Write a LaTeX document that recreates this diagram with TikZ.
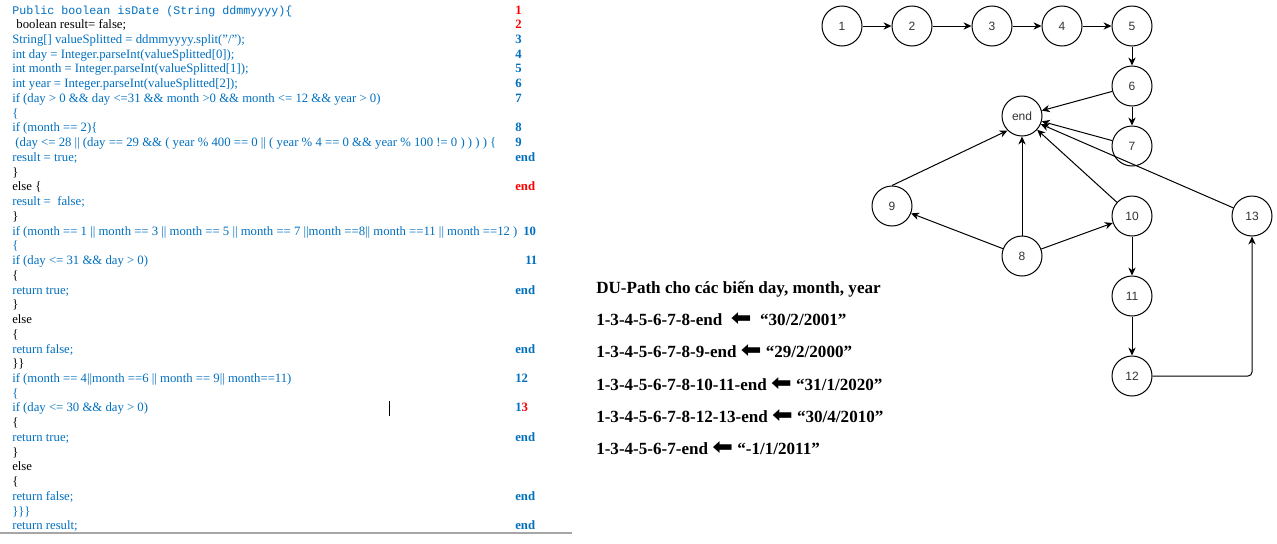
\documentclass[tikz,border=0pt]{standalone}
\usepackage{fontspec}
\setmainfont{Liberation Serif}
\newfontfamily\codemono{Liberation Mono}
\newfontfamily\graphfont{Liberation Sans}
\newfontfamily\symfont{DejaVu Sans}
\usetikzlibrary{arrows.meta}
\definecolor{codeblue}{HTML}{0070C0}
\definecolor{codered}{HTML}{FF0000}
\definecolor{nodetext}{HTML}{333333}
\definecolor{rulegray}{HTML}{A6A6A6}
\newcommand{\leftarr}{{\symfont\raisebox{-0.6pt}{\scalebox{1.45}[1.3]{⬅}}}}
\tikzset{
  codeline/.style={anchor=base west, inner sep=0pt, font=\fontsize{9.55pt}{11pt}\selectfont},
  blueline/.style={codeline, text=codeblue},
  blackline/.style={codeline, text=black},
  numlabel/.style={anchor=base west, inner sep=0pt, font=\fontsize{9.55pt}{11pt}\selectfont\bfseries, text=codeblue},
  dutext/.style={anchor=base west, inner sep=0pt, font=\fontsize{12.8pt}{14pt}\selectfont\bfseries, text=black},
  cfg/.style={circle, draw=black, line width=0.75pt, minimum size=30pt, inner sep=0pt, font=\graphfont\fontsize{9pt}{10pt}\selectfont, text=nodetext},
  edge/.style={line width=0.75pt, -{Stealth[length=6pt,width=5.5pt]}}
}
\begin{document}
\begin{tikzpicture}[x=0.75pt,y=-0.75pt]
\useasboundingbox (0,0) rectangle (1277,543);
\fill[white] (0,0) rectangle (1277,543);
% ---------------- code listing ----------------
\node[blueline, font=\codemono\fontsize{8.75pt}{10pt}\selectfont] (c1) at (12,14) {Public boolean isDate (String ddmmyyyy)\{};
\node[blackline] (c2) at (13,{14+14.74*1}) {\ boolean result= false;};
\node[blueline] (c3) at (12,{14+14.74*2}) {String[] valueSplitted = ddmmyyyy.split("/");};
\node[blueline] (c4) at (12,{14+14.74*3}) {int day = Integer.parseInt(valueSplitted[0]);};
\node[blueline] (c5) at (12,{14+14.74*4}) {int month = Integer.parseInt(valueSplitted[1]);};
\node[blueline] (c6) at (12,{14+14.74*5}) {int year = Integer.parseInt(valueSplitted[2]);};
\node[blueline] (c7) at (12,{14+14.74*6}) {if (day > 0 \&\& day <=31 \&\& month >0 \&\& month <= 12 \&\& year > 0)};
\node[blueline] (c8) at (12,{14+14.74*7}) {\{};
\node[blueline] (c9) at (12,{14+14.74*8}) {if (month == 2)\{};
\node[blueline] (c10) at (12,{14+14.74*9}) {\ (day <= 28 || (day == 29 \&\& ( year \% 400 == 0 || ( year \% 4 == 0 \&\& year \% 100 != 0 ) ) ) ) \{};
\node[blueline] (c11) at (12,{14+14.74*10}) {result = true;};
\node[blackline] (c12) at (12,{14+14.74*11}) {\}};
\node[blackline] (c13) at (12,{14+14.74*12}) {else \{};
\node[blueline] (c14) at (12,{14+14.74*13}) {result =\ \ false;};
\node[blackline] (c15) at (12,{14+14.74*14}) {\}};
\node[blueline] (c16) at (12,{14+14.74*15}) {if (month == 1 || month == 3 || month == 5 || month == 7 ||month ==8|| month ==11 || month ==12 )};
\node[blueline] (c17) at (12,{14+14.74*16}) {\{};
\node[blueline] (c18) at (12,{14+14.74*17}) {if (day <= 31 \&\& day > 0)};
\node[blackline] (c19) at (12,{14+14.74*18}) {\{};
\node[blueline] (c20) at (12,{14+14.74*19}) {return true;};
\node[blackline] (c21) at (12,{14+14.74*20}) {\}};
\node[blackline] (c22) at (12,{14+14.74*21}) {else};
\node[blackline] (c23) at (12,{14+14.74*22}) {\{};
\node[blueline] (c24) at (12,{14+14.74*23}) {return false;};
\node[blackline] (c25) at (12,{14+14.74*24}) {\}\}};
\node[blueline] (c26) at (12,{14+14.74*25}) {if (month == 4||month ==6 || month == 9|| month==11)};
\node[blueline] (c27) at (12,{14+14.74*26}) {\{};
\node[blueline] (c28) at (12,{14+14.74*27}) {if (day <= 30 \&\& day > 0)};
\node[blackline] (c29) at (12,{14+14.74*28}) {\{};
\node[blueline] (c30) at (12,{14+14.74*29}) {return true;};
\node[blackline] (c31) at (12,{14+14.74*30}) {\}};
\node[blackline] (c32) at (12,{14+14.74*31}) {else};
\node[blackline] (c33) at (12,{14+14.74*32}) {\{};
\node[blueline] (c34) at (12,{14+14.74*33}) {return false;};
\node[blueline] (c35) at (12,{14+14.74*34}) {\}\}\}};
\node[blueline] (c36) at (12,{14+14.74*35}) {return result;};
% line numbers
\node[numlabel, text=codered] (n1) at (515,14) {1};
\node[numlabel, text=codered] (n2) at (515,{14+14.74*1}) {2};
\node[numlabel] (n3) at (515,{14+14.74*2}) {3};
\node[numlabel] (n4) at (515,{14+14.74*3}) {4};
\node[numlabel] (n5) at (515,{14+14.74*4}) {5};
\node[numlabel] (n6) at (515,{14+14.74*5}) {6};
\node[numlabel] (n7) at (515,{14+14.74*6}) {7};
\node[numlabel] (n8) at (515,{14+14.74*8}) {8};
\node[numlabel] (n9) at (515,{14+14.74*9}) {9};
\node[numlabel] (n11e) at (515,{14+14.74*10}) {end};
\node[numlabel, text=codered] (n13e) at (515,{14+14.74*12}) {end};
\node[numlabel] (n10) at (523,{14+14.74*15}) {10};
\node[numlabel] (n11) at (525,{14+14.74*17}) {11};
\node[numlabel] (n20) at (515,{14+14.74*19}) {end};
\node[numlabel] (n24) at (515,{14+14.74*23}) {end};
\node[numlabel] (n12) at (515,{14+14.74*25}) {12};
\node[numlabel] (n13) at (515,{14+14.74*27}) {1\textcolor{codered}{3}};
\node[numlabel] (n30) at (515,{14+14.74*29}) {end};
\node[numlabel] (n34) at (515,{14+14.74*33}) {end};
\node[numlabel] (n36) at (515,{14+14.74*35}) {end};
% text cursor and bottom rule
\draw[line width=0.75pt] (389,401) -- (389,416);
\draw[rulegray, line width=0.9pt] (0,533) -- (572,533);
% ---------------- DU paths ----------------
\node[dutext] (d0) at (596,293) {DU-Path cho các biến day, month, year};
\node[dutext] (d1) at (596,325) {1-3-4-5-6-7-8-end\ \ \leftarr\ \ “30/2/2001”};
\node[dutext] (d2) at (596,357) {1-3-4-5-6-7-8-9-end \leftarr{} “29/2/2000”};
\node[dutext] (d3) at (596,390) {1-3-4-5-6-7-8-10-11-end \leftarr{} “31/1/2020”};
\node[dutext] (d4) at (596,422) {1-3-4-5-6-7-8-12-13-end \leftarr{} “30/4/2010”};
\node[dutext] (d5) at (596,454) {1-3-4-5-6-7-end \leftarr{} “-1/1/2011”};
% ---------------- control flow graph ----------------
\node[cfg] (g1) at (842,26) {1};
\node[cfg] (g2) at (912,26) {2};
\node[cfg] (g3) at (992,26) {3};
\node[cfg] (g4) at (1062,26) {4};
\node[cfg] (g5) at (1132,26) {5};
\node[cfg] (g6) at (1132,86) {6};
\node[cfg] (gend) at (1022,116) {end};
\node[cfg] (g7) at (1132,146) {7};
\node[cfg] (g9) at (892,206) {9};
\node[cfg] (g10) at (1132,216) {10};
\node[cfg] (g13) at (1252,216) {13};
\node[cfg] (g8) at (1022,256) {8};
\node[cfg] (g11) at (1132,296) {11};
\node[cfg] (g12) at (1132,376) {12};
\draw[edge] (g1) -- (g2);
\draw[edge] (g2) -- (g3);
\draw[edge] (g3) -- (g4);
\draw[edge] (g4) -- (g5);
\draw[edge] (g5) -- (g6);
\draw[edge] (g6) -- (g7);
\draw[edge] (g6) -- (gend);
\draw[edge] (g7) -- (gend);
\draw[edge] (g10) -- (gend);
\draw[edge] (g13) -- (gend);
\draw[edge] (g9.north) -- (gend.225);
\draw[edge] (g8) -- (gend);
\draw[edge] (g8) -- (g9);
\draw[edge] (g8) -- (g10);
\draw[edge] (g10) -- (g11);
\draw[edge] (g11) -- (g12);
\draw[edge, rounded corners=3pt] (g12.east) -| (g13.south);
\end{tikzpicture}
\end{document}
